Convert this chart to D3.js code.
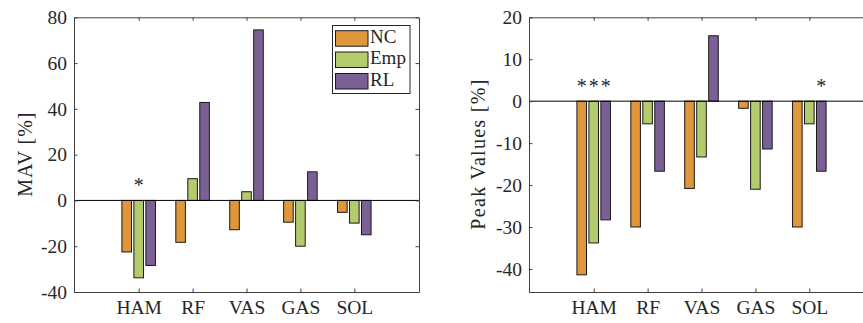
<!DOCTYPE html>
<html>
<head>
<meta charset="utf-8">
<script src="https://cdn.jsdelivr.net/npm/d3@7"></script>
<style>
  html, body { margin: 0; padding: 0; background: #fff; }
  svg { display: block; }
</style>
</head>
<body>
<svg id="chart" width="863" height="323" font-family="Liberation Serif"></svg>
<script>
// ---- data ----
const categories = ["HAM", "RF", "VAS", "GAS", "SOL"];
const seriesNames = ["NC", "Emp", "RL"];
const seriesColors = ["#E0963A", "#B3CB6C", "#7B6096"];

const mavNC  = [-22.5, -18.3, -12.8, -9.5, -5.2];
const mavEmp = [-33.8,   9.5,   3.8, -20.0, -9.9];
const mavRL  = [-28.4,  42.8,  74.5,  12.5, -15.0];

const peakNC  = [-41.4, -30.0, -20.8, -1.7, -30.0];
const peakEmp = [-33.8,  -5.4, -13.3, -21.0, -5.4];
const peakRL  = [-28.3, -16.7,  15.6, -11.4, -16.7];

const mavTicks  = [-40, -20, 0, 20, 40, 60, 80];
const peakTicks = [-40, -30, -20, -10, 0, 10, 20];

// significance markers: [category index, series index]
const mavSig  = [[0, 1]];
const peakSig = [[0, 0], [0, 1], [0, 2], [4, 2]];

// ---- drawing ----
const FONT = "Liberation Serif";
const svg = d3.select("#chart");
const axisColor = "#404040";
const textColor = "#262626";

function panel(opts) {
  const g = svg.append("g");
  const x = d3.scaleLinear().domain([-0.2, 6.2]).range([opts.left, opts.right]);
  const y = d3.scaleLinear().domain(opts.yDomain).range([292, 17.3]);
  const seriesVals = opts.values;
  const offsets = [-0.2222, 0, 0.2222];
  const bw = x(0.178) - x(0);

  // bars
  seriesVals.forEach((vals, s) => {
    g.append("g").selectAll("rect").data(vals).join("rect")
      .attr("x", (d, i) => x(i + 1 + offsets[s]) - bw / 2)
      .attr("width", bw)
      .attr("y", d => Math.min(y(d), y(0)))
      .attr("height", d => Math.abs(y(d) - y(0)))
      .attr("fill", seriesColors[s])
      .attr("stroke", "#1a1a1a")
      .attr("stroke-width", 1);
  });

  // zero baseline
  g.append("line")
    .attr("x1", x.range()[0]).attr("x2", x.range()[1])
    .attr("y1", y(0)).attr("y2", y(0))
    .attr("stroke", "#000").attr("stroke-width", 1);

  const tickVals = categories.map((c, i) => i + 1);
  const ts = 3.5;
  const styleAxis = sel => {
    sel.attr("font-family", FONT).attr("font-size", 19.5);
    sel.select(".domain").attr("stroke", axisColor);
    sel.selectAll(".tick line").attr("stroke", axisColor);
    sel.selectAll("text").attr("font-family", FONT).attr("font-size", 19.5).attr("fill", textColor);
  };

  g.append("g").attr("transform", `translate(0,292)`)
    .call(d3.axisBottom(x).tickValues(tickVals).tickFormat((d, i) => categories[i])
      .tickSizeInner(-ts).tickSizeOuter(0).tickPadding(8.3))
    .call(styleAxis);
  g.append("g").attr("transform", `translate(0,17.3)`)
    .call(d3.axisTop(x).tickValues(tickVals).tickFormat("")
      .tickSizeInner(-ts).tickSizeOuter(0))
    .call(styleAxis);
  g.append("g").attr("transform", `translate(${opts.left},0)`)
    .call(d3.axisLeft(y).tickValues(opts.ticks).tickFormat(d => (d < 0 ? "-" + Math.abs(d) : "" + d))
      .tickSizeInner(-ts).tickSizeOuter(0).tickPadding(7))
    .call(styleAxis);
  g.append("g").attr("transform", `translate(${opts.right},0)`)
    .call(d3.axisRight(y).tickValues(opts.ticks).tickFormat("")
      .tickSizeInner(-ts).tickSizeOuter(0))
    .call(styleAxis);

  // y label
  g.append("text")
    .attr("transform", `translate(${opts.labelX},${(292 + 17.3) / 2}) rotate(-90)`)
    .attr("text-anchor", "middle")
    .attr("font-family", FONT)
    .attr("font-size", 20)
    .attr("fill", textColor)
    .attr("textLength", opts.labelLen)
    .attr("lengthAdjust", "spacing")
    .text(opts.label);

  // significance stars
  g.selectAll("text.sig").data(opts.sig).join("text")
    .attr("class", "sig")
    .attr("x", d => x(d[0] + 1 + offsets[d[1]]))
    .attr("y", y(opts.sigY))
    .attr("text-anchor", "middle")
    .attr("font-family", FONT)
    .attr("font-size", 20)
    .attr("fill", textColor)
    .text("*");

  return { g, x, y };
}

panel({
  left: 74, right: 419, yDomain: [-40, 80], ticks: mavTicks,
  values: [mavNC, mavEmp, mavRL], label: "MAV [%]", labelX: 31.5, labelLen: 84,
  sig: mavSig, sigY: 3.6
});
panel({
  left: 529, right: 874, yDomain: [-45.5, 20], ticks: peakTicks,
  values: [peakNC, peakEmp, peakRL], label: "Peak Values [%]", labelX: 485, labelLen: 150,
  sig: peakSig, sigY: 2
});

// legend
const lg = svg.append("g");
lg.append("rect").attr("x", 332.5).attr("y", 25.5).attr("width", 77.5).attr("height", 68)
  .attr("fill", "#fff").attr("stroke", "#262626").attr("stroke-width", 1);
const legY = [30.7, 52, 73.5];
seriesNames.forEach((name, i) => {
  lg.append("rect").attr("x", 335.5).attr("y", legY[i]).attr("width", 32.5).attr("height", 15.5)
    .attr("fill", seriesColors[i]).attr("stroke", "#1a1a1a").attr("stroke-width", 1);
  lg.append("text").attr("x", 370).attr("y", legY[i] + 12.4)
    .attr("font-family", FONT).attr("font-size", 19).attr("fill", textColor).text(name);
});
</script>
</body>
</html>
